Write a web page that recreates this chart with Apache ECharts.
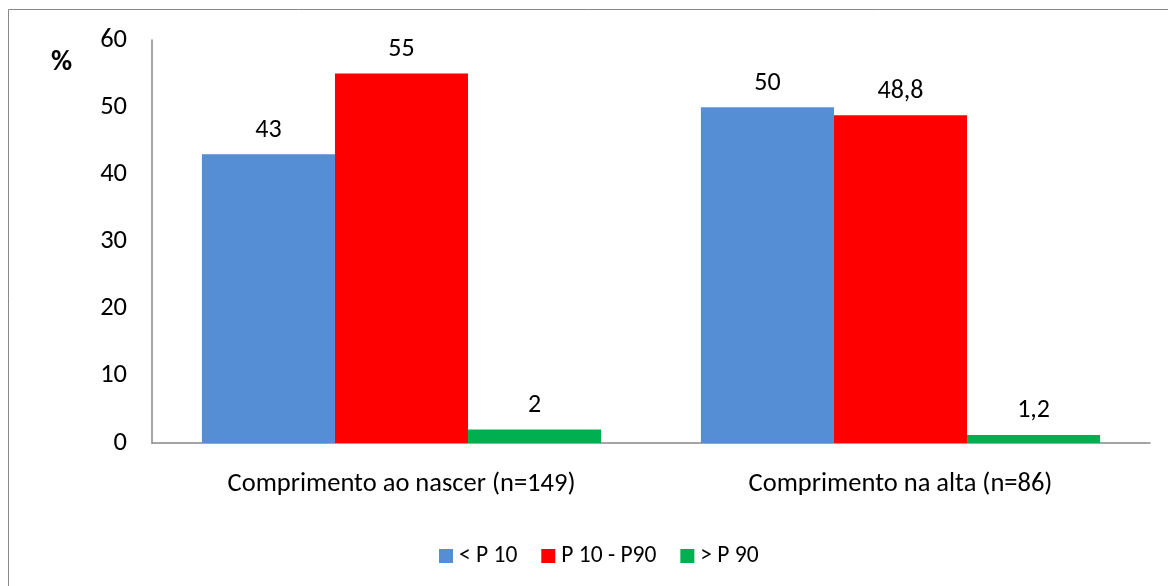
<!DOCTYPE html>
<html><head><meta charset="utf-8">
<script src="https://cdn.jsdelivr.net/npm/echarts@6/dist/echarts.min.js"></script>
<style>html,body{margin:0;padding:0;background:#fff}#c{width:1168px;height:586px}</style>
</head><body><div id="c"></div>
<script>
const categories = ['Comprimento ao nascer (n=149)', 'Comprimento na alta (n=86)'];
const seriesNames = ['< P 10', 'P 10 - P90', '> P 90'];
const lowP10 = [43, 50];
const midP = [55, 48.8];
const highP90 = [2, 1.2];
const yTicks = [0, 10, 20, 30, 40, 50, 60];
const colors = ['#558ED5', '#FF0000', '#00B050'];
const font = 'Carlito, "Open Sans", "Liberation Sans", sans-serif';

const chart = echarts.init(document.getElementById('c'), null, {renderer: 'canvas'});
const fmt = p => String(p.value).replace('.', ',');
const mk = (name, data, color) => ({
  name, type: 'bar', data, barGap: '0%', barCategoryGap: '20%',
  itemStyle: {color},
  label: {show: true, position: 'top', distance: 11, formatter: fmt,
    fontFamily: font, fontSize: 26, color: '#000'}
});
chart.setOption({
  animation: false,
  graphic: [
    {type: 'rect', shape: {x: 8.5, y: 9.5, width: 1200, height: 700},
     style: {fill: null, stroke: '#888', lineWidth: 1}},
    {type: 'text', left: 51, top: 48,
     style: {text: '%', fontFamily: font, fontSize: 29, fontWeight: 'bold', fill: '#000'}}
  ],
  grid: {left: 152, right: 18, top: 40, bottom: 143},
  legend: {
    top: 539, left: 434, itemWidth: 14, itemHeight: 14, itemGap: 24,
    icon: 'rect', textStyle: {fontFamily: font, fontSize: 23.5, color: '#000', padding: [0, 0, 0, 1]},
    data: seriesNames
  },
  xAxis: {
    type: 'category', data: categories,
    axisLine: {lineStyle: {color: '#888', width: 1.5}},
    axisTick: {show: false},
    axisLabel: {fontFamily: font, fontSize: 26.5, color: '#000', margin: 28}
  },
  yAxis: {
    type: 'value', min: yTicks[0], max: yTicks[yTicks.length - 1], interval: 10,
    axisLine: {show: true, lineStyle: {color: '#888', width: 1.5}},
    axisTick: {show: false},
    splitLine: {show: false},
    axisLabel: {fontFamily: font, fontSize: 26.5, color: '#000', margin: 25}
  },
  series: [mk(seriesNames[0], lowP10, colors[0]), mk(seriesNames[1], midP, colors[1]), mk(seriesNames[2], highP90, colors[2])]
});
</script></body></html>
